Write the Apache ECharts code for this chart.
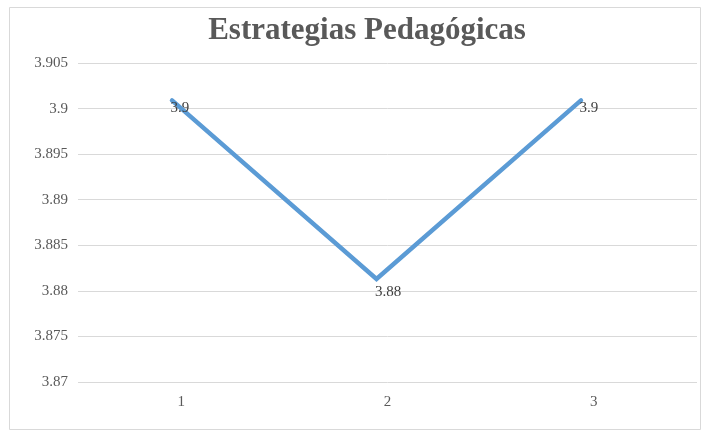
<!DOCTYPE html>
<html><head><meta charset="utf-8">
<script src="https://cdn.jsdelivr.net/npm/echarts@6/dist/echarts.min.js"></script>
<style>html,body{margin:0;padding:0;background:#fff}#c{width:704px;height:431px}</style>
</head><body><div id="c"></div>
<script>
const categories = ['1', '2', '3'];
const values = [3.9009, 3.8813, 3.9009];
const yTicks = [3.87, 3.875, 3.88, 3.885, 3.89, 3.895, 3.9, 3.905];
const labelOffsets = [8, 13, 8];

const yMin = yTicks[0], yMax = yTicks[yTicks.length - 1];
const chart = echarts.init(document.getElementById('c'), null, {renderer: 'canvas'});
chart.setOption({
  animation: false,
  backgroundColor: '#fff',
  title: {
    text: 'Estrategias Pedagógicas',
    left: 362, top: 10, textAlign: 'center',
    textStyle: {fontFamily: 'Liberation Serif', fontWeight: 'bold', fontSize: 31, color: '#595959'}
  },
  graphic: [{type: 'rect', shape: {x: 9.5, y: 7.5, width: 691, height: 422}, style: {fill: 'none', stroke: '#d9d9d9', lineWidth: 1}, silent: true}],
  grid: [
    {left: 78, right: 7, top: 63, bottom: 431 - 382},
    {left: 69.75, right: 20.75, top: 63, bottom: 431 - 382}
  ],
  xAxis: [{
    type: 'category', data: categories, boundaryGap: true, gridIndex: 0,
    axisLine: {show: false}, axisTick: {show: false},
    axisLabel: {margin: 13, color: '#595959', fontFamily: 'Liberation Serif', fontSize: 15}
  }, {
    type: 'category', data: categories, boundaryGap: true, gridIndex: 1, show: false
  }],
  yAxis: [{
    type: 'value', min: yMin, max: yMax, interval: 0.005, gridIndex: 0,
    axisLine: {show: false}, axisTick: {show: false},
    splitLine: {lineStyle: {color: '#d9d9d9', width: 1}},
    axisLabel: {margin: 10, color: '#595959', fontFamily: 'Liberation Serif', fontSize: 15,
      formatter: v => String(parseFloat(v.toFixed(3)))}
  }, {
    type: 'value', min: yMin, max: yMax, interval: 0.005, gridIndex: 1, show: false
  }],
  series: [{
    type: 'line', xAxisIndex: 1, yAxisIndex: 1,
    data: values.map((v, i) => ({value: v, label: {offset: [-2, labelOffsets[i]]}})),
    showSymbol: true, symbol: 'circle', symbolSize: 1,
    itemStyle: {color: '#5b9bd5'},
    lineStyle: {color: '#5b9bd5', width: 4.5, cap: 'round', join: 'miter'},
    label: {show: true, position: 'right', distance: 0, color: '#404040', fontFamily: 'Liberation Serif', fontSize: 15,
      formatter: p => String(parseFloat(p.value.toFixed(2)))}
  }]
});
</script></body></html>
